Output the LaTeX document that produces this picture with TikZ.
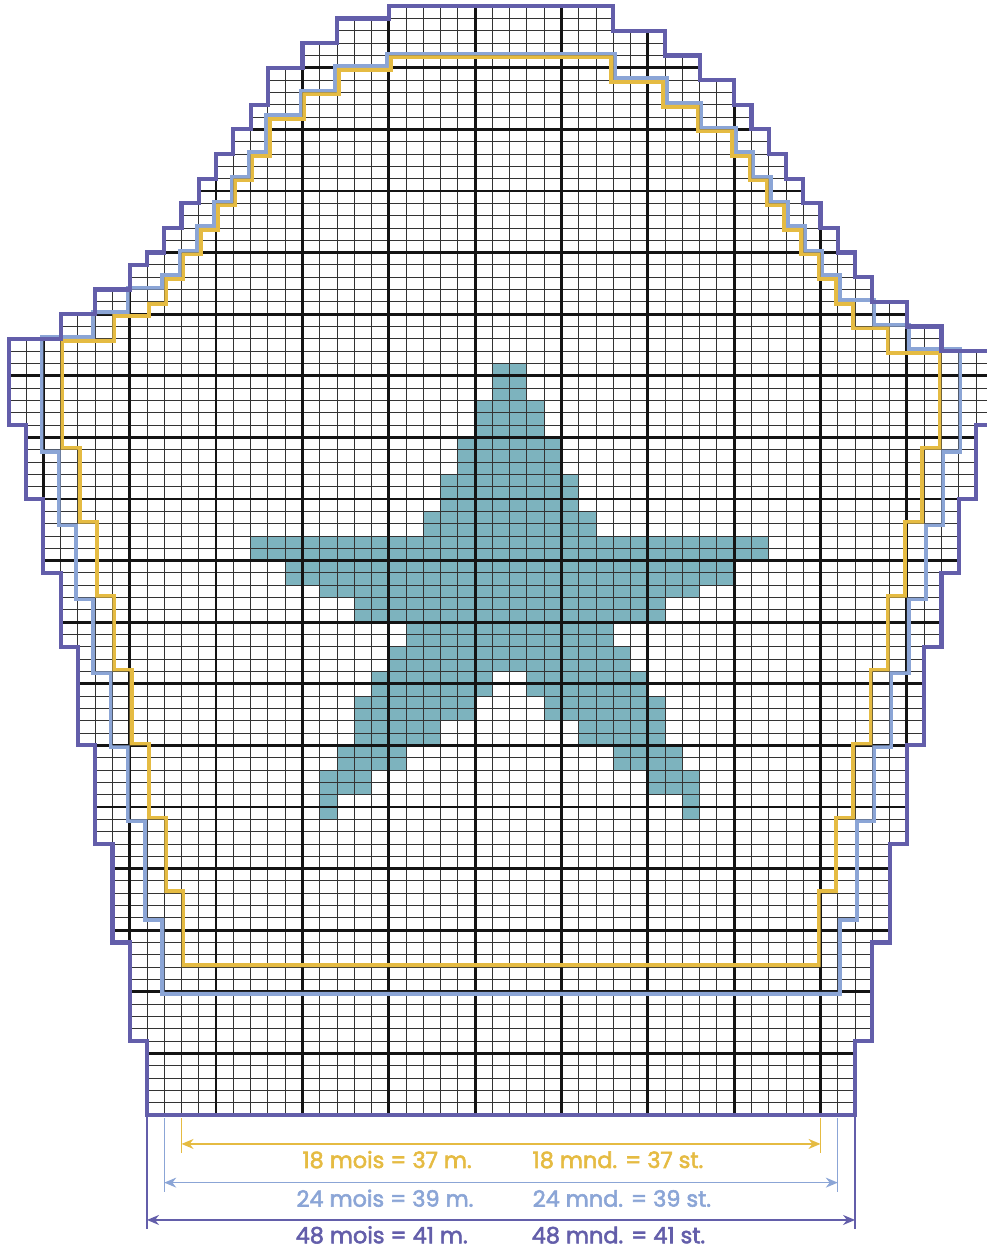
\documentclass[tikz,border=0pt]{standalone}
\usepackage{fontspec}
\setmainfont{Poppins}
\newfontfamily\labelfont{Poppins}[FakeBold=2.5]
\usepackage{tikz}
\usetikzlibrary{arrows.meta}

\definecolor{wool48}{RGB}{99,94,170}
\definecolor{wool24}{RGB}{139,165,214}
\definecolor{wool18}{RGB}{229,187,66}
\definecolor{starteal}{RGB}{125,179,190}

\tikzset{
  thinrule/.style={draw=black!80, line width=0.45pt},
  thickrule/.style={draw=black!92, line width=1.4pt},
  starcell/.style={fill=starteal},
  dimarrow/.style={line width=0.7pt, >={Stealth[length=6pt,width=5pt]}, <->},
  dimtick/.style={line width=0.6pt},
  sizetext/.style={font=\labelfont\fontsize{11.2pt}{13pt}\selectfont, inner sep=0pt, anchor=base},
}

\def\pathlarge{(0,0) -- (41,0) |- (42,6) |- (43,14) |- (44,22) |- (45,30) |- (46,38) |- (47,44) |- (48,50) |- (49,56) |- (46,62) |- (44,64) |- (42,66) |- (41,68) |- (40,70) |- (39,72) |- (38,74) |- (37,76) |- (36,78) |- (35,80) |- (34,82) |- (32,84) |- (30,86) |- (27,88) |- (14,90) |- (11,89) |- (9,87) |- (7,85) |- (6,82) |- (5,80) |- (4,78) |- (3,76) |- (2,74) |- (1,72) |- (0,70) |- (-1,69) |- (-3,67) |- (-5,65) |- (-8,63) |- (-7,56) |- (-6,50) |- (-5,44) |- (-4,38) |- (-3,30) |- (-2,22) |- (-1,14) |- (0,6) -- cycle}
\def\pathmedium{(1,10) -- (40,10) |- (41,16) |- (42,24) |- (43,30) |- (44,36) |- (45,42) |- (46,48) |- (47,54) |- (44,62) |- (42,64) |- (40,66) |- (39,68) |- (38,70) |- (37,72) |- (36,74) |- (35,76) |- (34,78) |- (32,80) |- (30,82) |- (27,84) |- (14,86) |- (11,85) |- (9,83) |- (7,81) |- (6,78) |- (5,76) |- (4,74) |- (3,72) |- (2,70) |- (1,68) |- (-1,67) |- (-3,65) |- (-6,63) |- (-5,54) |- (-4,48) |- (-3,42) |- (-2,36) |- (-1,30) |- (0,24) |- (1,16) -- cycle}
\def\pathsmall{(2,12) -- (39,12) |- (40,18) |- (41,24) |- (42,30) |- (43,36) |- (44,42) |- (45,48) |- (46,54) |- (43,62) |- (41,64) |- (40,66) |- (39,68) |- (38,70) |- (37,72) |- (36,74) |- (35,76) |- (34,78) |- (32,80) |- (30,82) |- (27,84) |- (14,86) |- (11,85) |- (9,83) |- (7,81) |- (6,78) |- (5,76) |- (4,74) |- (3,72) |- (2,70) |- (1,68) |- (0,66) |- (-2,65) |- (-5,63) |- (-4,54) |- (-3,48) |- (-2,42) |- (-1,36) |- (0,30) |- (1,24) |- (2,18) -- cycle}

\begin{document}
\begin{tikzpicture}[x=8.635pt, y=6.16pt]
  \useasboundingbox (-8.512,-10.958) rectangle (48.639,90.503);
  \clip (-8.512,-10.958) rectangle (48.639,90.503);

  % star motif
  \foreach \xa/\ya/\xb/\yb in {20/58/22/61, 19/55/23/58, 18/52/24/55, 17/49/25/52, 16/47/26/49,
      6/45/36/47, 8/43/34/45, 10/42/32/43, 12/40/30/42, 15/38/27/40, 14/36/28/38,
      13/34/20/36, 12/32/19/34, 12/30/17/32, 11/28/15/30, 10/26/13/28, 10/24/11/26} {
    \fill[starcell] (\xa,\ya) rectangle (\xb,\yb);
    \fill[starcell] ({42-\xb},\ya) rectangle ({42-\xa},\yb);
  }

  % chart grid
  \begin{scope}
    \clip \pathlarge;
    \foreach \c in {-8,...,49} \draw[thinrule] (\c,0) -- (\c,90);
    \foreach \r in {0,...,90} \draw[thinrule] (-8,\r) -- (49,\r);
    \foreach \c in {-6,-1,...,49} \draw[thickrule] (\c,0) -- (\c,90);
    \foreach \r in {0,5,...,90} \draw[thickrule] (-8,\r) -- (49,\r);
  \end{scope}

  % size outlines
  \begin{scope}
    \clip (-12,-12) -- (-12,95) -- (52,95) -- (52,-12) -- cycle \pathmedium;
    \draw[wool24, line width=3.8pt] \pathmedium;
  \end{scope}
  \begin{scope}
    \clip \pathsmall;
    \draw[wool18, line width=3.8pt] \pathsmall;
  \end{scope}
  \draw[wool48, line width=2.1pt] \pathlarge;

  % widths
  \coordinate (e18l) at (2,-0.27);   \coordinate (f18l) at (2,-3.11);
  \coordinate (e18r) at (39,-0.27);  \coordinate (f18r) at (39,-3.11);
  \coordinate (d18l) at (2,-2.35);   \coordinate (d18r) at (39,-2.35);
  \coordinate (e24l) at (1,-0.27);   \coordinate (f24l) at (1,-6.22);
  \coordinate (e24r) at (40,-0.27);  \coordinate (f24r) at (40,-6.22);
  \coordinate (d24l) at (1,-5.49);   \coordinate (d24r) at (40,-5.49);
  \coordinate (e48l) at (0,0);       \coordinate (f48l) at (0,-9.28);
  \coordinate (e48r) at (41,0);      \coordinate (f48r) at (41,-9.28);
  \coordinate (d48l) at (0,-8.52);   \coordinate (d48r) at (41,-8.52);

  \draw[dimtick, wool18] (e18l) -- (f18l);
  \draw[dimtick, wool18] (e18r) -- (f18r);
  \draw[dimarrow, wool18] (d18l) -- (d18r);
  \draw[dimtick, wool24] (e24l) -- (f24l);
  \draw[dimtick, wool24] (e24r) -- (f24r);
  \draw[dimarrow, wool24] (d24l) -- (d24r);
  \draw[dimtick, wool48] (e48l) -- (f48l);
  \draw[dimtick, wool48] (e48r) -- (f48r);
  \draw[dimarrow, wool48] (d48l) -- (d48r);

  \node[sizetext, text=wool18] (mois18) at (13.9,-4.3) {18 mois = 37 m.};
  \node[sizetext, text=wool18] (mnd18) at (27.27,-4.3) {18 mnd. = 37 st.};
  \node[sizetext, text=wool24] (mois24) at (13.78,-7.44) {24 mois = 39 m.};
  \node[sizetext, text=wool24] (mnd24) at (27.5,-7.44) {24 mnd. = 39 st.};
  \node[sizetext, text=wool48] (mois48) at (13.59,-10.41) {48 mois = 41 m.};
  \node[sizetext, text=wool48] (mnd48) at (27.3,-10.41) {48 mnd. = 41 st.};
\end{tikzpicture}
\end{document}
